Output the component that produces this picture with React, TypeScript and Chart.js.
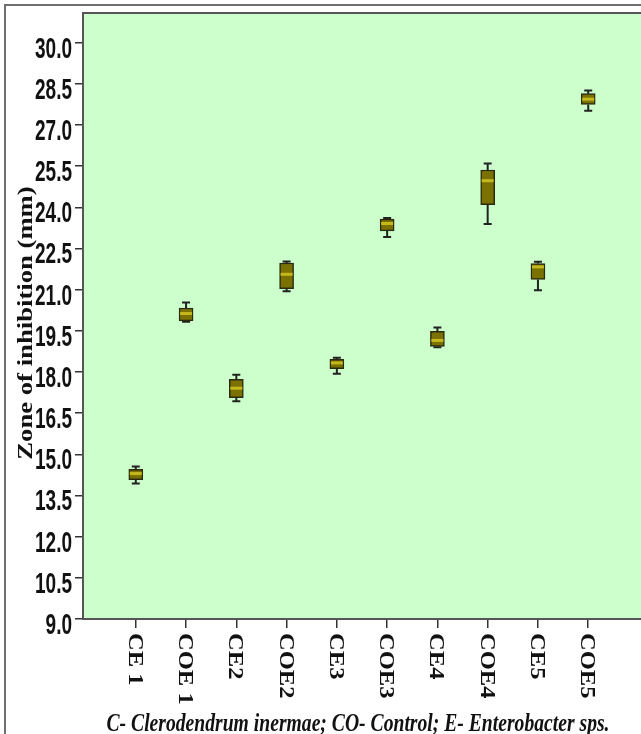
import React, { useEffect, useRef } from "react";
import { Chart, registerables } from "chart.js";

Chart.register(...registerables);

// ---- data ----
const categories = ["CE 1", "COE 1", "CE2", "COE2", "CE3", "COE3", "CE4", "COE4", "CE5", "COE5"];
const whiskerLow = [13.94, 19.83, 16.93, 20.94, 17.94, 22.92, 18.90, 23.39, 20.98, 27.52];
const q1 = [14.08, 19.86, 17.06, 21.04, 18.12, 23.14, 18.93, 24.10, 21.37, 27.75];
const medians = [14.30, 20.13, 17.41, 21.56, 18.33, 23.41, 19.15, 24.97, 21.83, 27.94];
const q3 = [14.45, 20.33, 17.73, 21.97, 18.46, 23.57, 19.48, 25.36, 21.95, 28.14];
const whiskerHigh = [14.56, 20.53, 17.90, 22.03, 18.52, 23.61, 19.62, 25.60, 22.02, 28.26];
const yTickValues = [9.0, 10.5, 12.0, 13.5, 15.0, 16.5, 18.0, 19.5, 21.0, 22.5, 24.0, 25.5, 27.0, 28.5, 30.0];
const yTickLabels = ["9.0", "10.5", "12.0", "13.5", "15.0", "16.5", "18.0", "19.5", "21.0", "22.5", "24.0", "25.5", "27.0", "28.5", "30.0"];
const yAxisTitle = "Zone of inhibition (mm)";
const caption = "C- Clerodendrum inermae; CO- Control; E- Enterobacter sps.";

const W = 641;
const H = 734;

function drawText(
  ctx: CanvasRenderingContext2D,
  text: string,
  x: number,
  y: number,
  font: string,
  sx: number,
  sy: number,
  rot: number,
  align: CanvasTextAlign,
  baseline: CanvasTextBaseline
) {
  ctx.save();
  ctx.translate(x, y);
  ctx.scale(sx, sy);
  if (rot) ctx.rotate(rot);
  ctx.font = font;
  ctx.textAlign = align;
  ctx.textBaseline = baseline;
  ctx.fillStyle = "#111";
  ctx.fillText(text, 0, 0);
  ctx.restore();
}

const customPlugin = {
  id: "customBoxDraw",
  beforeDraw(chart: any) {
    const { ctx, chartArea: a } = chart;
    ctx.save();
    ctx.fillStyle = "#ffffff";
    ctx.fillRect(0, 0, chart.width, chart.height);
    ctx.strokeStyle = "#707070";
    ctx.lineWidth = 2;
    ctx.beginPath();
    ctx.moveTo(5, chart.height);
    ctx.lineTo(5, 5);
    ctx.lineTo(chart.width, 5);
    ctx.stroke();
    ctx.fillStyle = "#ccffcc";
    ctx.fillRect(a.left, a.top, a.right - a.left, a.bottom - a.top);
    ctx.restore();
  },
  beforeDatasetsDraw(chart: any) {
    const { ctx } = chart;
    const xs = chart.scales.x;
    const ys = chart.scales.y;
    ctx.save();
    ctx.strokeStyle = "#222";
    ctx.lineWidth = 2;
    categories.forEach((_, i) => {
      const px = xs.getPixelForValue(i);
      const yLo = ys.getPixelForValue(whiskerLow[i]);
      const yHi = ys.getPixelForValue(whiskerHigh[i]);
      const yQ1 = ys.getPixelForValue(q1[i]);
      const yQ3 = ys.getPixelForValue(q3[i]);
      ctx.beginPath();
      ctx.moveTo(px, yQ3);
      ctx.lineTo(px, yHi);
      ctx.moveTo(px, yQ1);
      ctx.lineTo(px, yLo);
      ctx.moveTo(px - 4, yHi);
      ctx.lineTo(px + 4, yHi);
      ctx.moveTo(px - 4, yLo);
      ctx.lineTo(px + 4, yLo);
      ctx.stroke();
    });
    ctx.restore();
  },
  afterDatasetsDraw(chart: any) {
    const { ctx, chartArea: a } = chart;
    const xs = chart.scales.x;
    const ys = chart.scales.y;
    ctx.save();
    ctx.strokeStyle = "#c4b81c";
    ctx.lineWidth = 3;
    categories.forEach((_, i) => {
      const px = xs.getPixelForValue(i);
      const ym = ys.getPixelForValue(medians[i]);
      ctx.beginPath();
      ctx.moveTo(px - 6, ym);
      ctx.lineTo(px + 6, ym);
      ctx.stroke();
    });
    ctx.strokeStyle = "#555";
    ctx.lineWidth = 2;
    ctx.strokeRect(a.left, a.top, a.right - a.left + 4, a.bottom - a.top);
    ctx.restore();
  },
  afterDraw(chart: any) {
    const { ctx } = chart;
    const xs = chart.scales.x;
    const ys = chart.scales.y;
    const tickFont = 'bold 22px "Liberation Sans", Arial, sans-serif';
    ctx.save();
    ctx.font = tickFont;
    const refW = ctx.measureText("30.0").width;
    ctx.restore();
    const tsx = 37 / refW;
    ys.ticks.forEach((t: any, i: number) => {
      const py = ys.getPixelForValue(t.value);
      drawText(ctx, yTickLabels[i], 72, py + 15, tickFont, tsx, 1.36, 0, "right", "alphabetic");
    });
    drawText(ctx, yAxisTitle, 32, 323, 'bold 21px "Liberation Serif", "Times New Roman", serif', 1, 1.27, -Math.PI / 2, "center", "alphabetic");
    categories.forEach((c, i) => {
      const px = xs.getPixelForValue(i);
      drawText(ctx, c, px - 7, 633, 'bold 21px "Liberation Serif", "Times New Roman", serif', 1, 1.17, Math.PI / 2, "left", "alphabetic");
    });
    ctx.save();
    ctx.font = 'italic bold 20px "Liberation Serif", "Times New Roman", serif';
    const w = ctx.measureText(caption).width;
    ctx.translate(358, 731);
    ctx.scale(503 / w, 1.25);
    ctx.textAlign = "center";
    ctx.textBaseline = "alphabetic";
    ctx.fillStyle = "#111";
    ctx.fillText(caption, 0, 0);
    ctx.restore();
  },
};

export default function App() {
  const ref = useRef<HTMLCanvasElement | null>(null);
  useEffect(() => {
    if (!ref.current) return;
    const chart = new Chart(ref.current, {
      type: "bar",
      data: {
        datasets: [
          {
            data: categories.map((_, i) => ({ x: i, y: [q1[i], q3[i]] })) as any,
            backgroundColor: "#7b7100",
            borderColor: "#2a2a10",
            borderWidth: 1.5,
            borderSkipped: false,
            barThickness: 14,
          },
        ],
      },
      options: {
        responsive: false,
        animation: false,
        events: [],
        layout: { padding: { top: 13, left: 0, right: 0, bottom: 0 } },
        plugins: { legend: { display: false }, tooltip: { enabled: false }, title: { display: false } },
        scales: {
          x: {
            type: "linear",
            min: -1.05,
            max: 10.05,
            offset: false,
            afterBuildTicks: (s: any) => {
              s.ticks = categories.map((_, i) => ({ value: i }));
            },
            afterFit: (s: any) => {
              s.height = 115;
            },
            ticks: { display: false },
            grid: { offset: false, drawOnChartArea: false, drawTicks: true, tickLength: 9, color: "#333", lineWidth: 1.5 },
            border: { display: false },
          },
          y: {
            type: "linear",
            min: 9,
            max: 31.08,
            afterBuildTicks: (s: any) => {
              s.ticks = yTickValues.map((v) => ({ value: v }));
            },
            afterFit: (s: any) => {
              s.width = 83;
            },
            ticks: { display: false },
            grid: { drawOnChartArea: false, drawTicks: true, tickLength: 8, color: "#333", lineWidth: 1.5 },
            border: { display: false },
          },
        },
      },
      plugins: [customPlugin],
    });
    return () => chart.destroy();
  }, []);
  return (
    <div style={{ position: "absolute", left: 0, top: 0, width: W, height: H, overflow: "hidden", background: "#fff" }}>
      <canvas ref={ref} width={W} height={H} style={{ display: "block", width: W, height: H }} />
    </div>
  );
}
